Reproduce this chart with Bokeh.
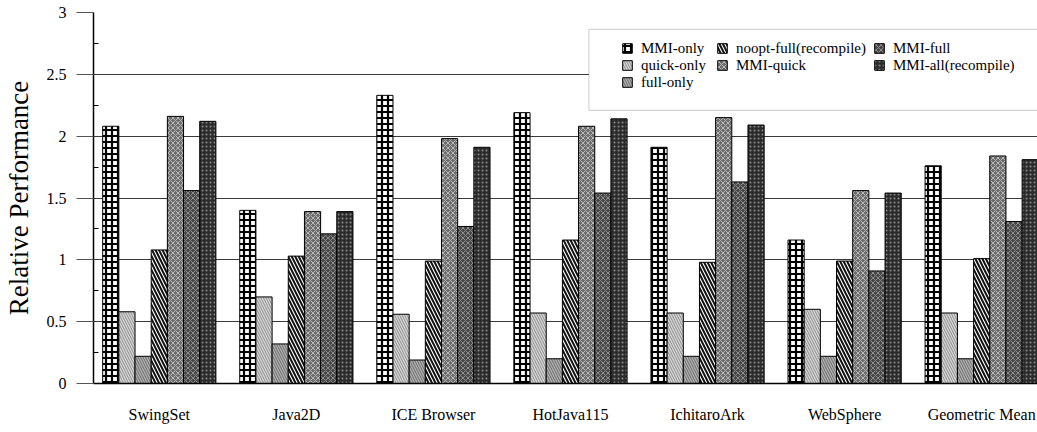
from bokeh.plotting import figure
from bokeh.models import (Range1d, FixedTicker, Legend, LegendItem, BoxAnnotation,
                          ColumnDataSource)
from bokeh.transform import dodge
from bokeh.embed import file_html
from bokeh.resources import INLINE

# ---------------- data ----------------
categories = ["SwingSet", "Java2D", "ICE Browser", "HotJava115", "IchitaroArk",
              "WebSphere", "Geometric Mean"]
series_names = ["MMI-only", "quick-only", "full-only", "noopt-full(recompile)",
                "MMI-quick", "MMI-full", "MMI-all(recompile)"]
mmi_only = [2.08, 1.40, 2.33, 2.19, 1.91, 1.16, 1.76]
quick_only = [0.58, 0.70, 0.56, 0.57, 0.57, 0.60, 0.57]
full_only = [0.22, 0.32, 0.19, 0.20, 0.22, 0.22, 0.20]
noopt_full = [1.08, 1.03, 0.99, 1.16, 0.98, 0.99, 1.01]
mmi_quick = [2.16, 1.39, 1.98, 2.08, 2.15, 1.56, 1.84]
mmi_full = [1.56, 1.21, 1.27, 1.54, 1.63, 0.91, 1.31]
mmi_all = [2.12, 1.39, 1.91, 2.14, 2.09, 1.54, 1.81]
y_ticks = [0, 0.5, 1, 1.5, 2, 2.5, 3]
y_tick_labels = ["0", "0.5", "1", "1.5", "2", "2.5", "3"]

series_values = [mmi_only, quick_only, full_only, noopt_full, mmi_quick, mmi_full, mmi_all]

# ---------------- styles ----------------
FONT = "Liberation Serif"
styles = [
    dict(fill_color="white", hatch_pattern="cross", hatch_color="black", hatch_scale=6, hatch_weight=2.2),
    dict(fill_color="#d6d6d6", hatch_pattern="left_diagonal_line", hatch_color="#8c8c8c", hatch_scale=5, hatch_weight=1),
    dict(fill_color="#b0b0b0", hatch_pattern="left_diagonal_line", hatch_color="#6a6a6a", hatch_scale=5, hatch_weight=1),
    dict(fill_color="white", hatch_pattern="left_diagonal_line", hatch_color="#111111", hatch_scale=7, hatch_weight=2),
    dict(fill_color="#6c6c6c", hatch_pattern="diagonal_cross", hatch_color="#b8b8b8", hatch_scale=5, hatch_weight=1),
    dict(fill_color="#474747", hatch_pattern="diagonal_cross", hatch_color="#8e8e8e", hatch_scale=5, hatch_weight=1),
    dict(fill_color="#2c2c2c", hatch_pattern="dot", hatch_color="#8a8a8a", hatch_scale=4, hatch_weight=1),
]

W, H = 1037, 432
LEFT, TOP, BOTTOM = 90, 12, 49
PX_PER_UNIT = 137.5
BAR_W = 0.118
X_START = -0.48
X_END = X_START + (W - LEFT) / PX_PER_UNIT

src = ColumnDataSource(dict(x=list(range(len(categories))),
                            **{f"s{i}": v for i, v in enumerate(series_values)}))

p = figure(width=W, height=H, output_backend="svg", toolbar_location=None,
           x_range=Range1d(X_START, X_END), y_range=Range1d(0, 3),
           min_border_left=LEFT, min_border_right=0, min_border_top=TOP, min_border_bottom=BOTTOM)
p.outline_line_color = None
p.background_fill_color = "white"
p.xgrid.visible = False

renderers = []
n = len(series_names)
for i, name in enumerate(series_names):
    off = (i - (n - 1) / 2) * BAR_W
    r = p.vbar(x=dodge("x", off), top=f"s{i}", width=BAR_W, bottom=0, source=src,
               line_color="black", line_width=1, **styles[i])
    renderers.append(r)

# axes
minor = [(a + b) / 2 for a, b in zip(y_ticks[:-1], y_ticks[1:])]
p.yaxis.ticker = FixedTicker(ticks=y_ticks, minor_ticks=minor)
p.ygrid.ticker = FixedTicker(ticks=y_ticks)
p.ygrid.grid_line_color = "#3a3a3a"
p.ygrid.grid_line_width = 1
p.yaxis.major_label_overrides = {t: l for t, l in zip(y_ticks, y_tick_labels)}
p.yaxis.major_tick_out = 17
p.yaxis.major_tick_in = 0
p.yaxis.major_tick_line_color = "#555555"
p.yaxis.minor_tick_in = 5
p.yaxis.minor_tick_out = 0
p.yaxis.minor_tick_line_color = "black"
p.yaxis.axis_line_color = "black"
p.yaxis.axis_line_width = 1.5
p.yaxis.major_label_standoff = 10
p.yaxis.major_label_text_font = FONT
p.yaxis.major_label_text_font_size = "16px"
p.yaxis.major_label_text_color = "black"
p.yaxis.axis_label = "Relative Performance"
p.yaxis.axis_label_text_font = FONT
p.yaxis.axis_label_text_font_size = "27px"
p.yaxis.axis_label_text_font_style = "normal"
p.yaxis.axis_label_text_color = "black"
p.yaxis.axis_label_standoff = 10

p.xaxis.ticker = FixedTicker(ticks=list(range(len(categories))))
p.xaxis.major_label_overrides = {i: c for i, c in enumerate(categories)}
p.xaxis.major_tick_line_color = None
p.xaxis.major_tick_out = 0
p.xaxis.major_tick_in = 0
p.xaxis.minor_tick_line_color = None
p.xaxis.axis_line_color = "black"
p.xaxis.axis_line_width = 1.5
p.xaxis.major_label_standoff = 22
p.xaxis.major_label_text_font = FONT
p.xaxis.major_label_text_font_size = "16px"
p.xaxis.major_label_text_color = "black"

# legend frame (decoration)
box = BoxAnnotation(left=X_START + (587 - LEFT) / PX_PER_UNIT, top=2.864, bottom=2.209,
                    fill_color="white", fill_alpha=1.0, line_color="#555555", line_width=1)
p.add_layout(box)

legend_columns = [[0, 1, 2], [3, 4], [5, 6]]
legend_x = [528, 623, 780]
ROW_H = 16.6
LEG_TOP = 383 - 40.7  # offset of legend top above frame bottom
for cols, lx in zip(legend_columns, legend_x):
    lg = Legend(items=[LegendItem(label=series_names[k], renderers=[renderers[k]]) for k in cols],
                orientation="vertical", location=(lx, LEG_TOP - ROW_H * len(cols)),
                background_fill_alpha=0, border_line_alpha=0, padding=0, margin=0,
                spacing=0, glyph_width=12, glyph_height=12, label_standoff=8,
                label_height=16, label_text_font=FONT, label_text_font_size="15px",
                label_text_color="black")
    p.add_layout(lg)

open("out.html", "w").write(file_html(p, INLINE))
